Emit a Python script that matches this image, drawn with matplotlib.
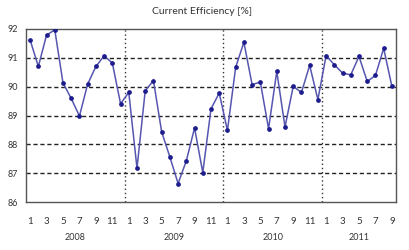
import matplotlib
matplotlib.use("Agg")
import matplotlib.pyplot as plt
import matplotlib.transforms as mtransforms
import numpy as np

plt.rcParams['font.family'] = ['Lato', 'DejaVu Sans']

years = ["2008", "2009", "2010", "2011"]
months_per_year = [12, 12, 12, 9]
values = [
    91.62, 90.70, 91.79, 91.97, 90.13, 89.59, 88.98, 90.09, 90.70, 91.07, 90.82, 89.41,
    89.80, 87.17, 89.86, 90.21, 88.43, 87.56, 86.64, 87.43, 88.57, 87.02, 89.23, 89.78,
    88.48, 90.67, 91.54, 90.07, 90.16, 88.54, 90.53, 88.60, 90.01, 89.80, 90.74, 89.55,
    91.08, 90.76, 90.47, 90.41, 91.05, 90.18, 90.39, 91.33, 90.01,
]
title = "Current Efficiency [%]"
yticks = [86, 87, 88, 89, 90, 91, 92]

month_labels = []
for n in months_per_year:
    month_labels += list(range(1, n + 1))
x = np.arange(len(values))

fig = plt.figure(figsize=(4.09, 2.5), dpi=100)
ax = fig.add_axes([26 / 409, 1 - 202 / 250, (396 - 26) / 409, (202 - 29) / 250])

ax.set_ylim(86, 92)
ax.set_xlim(-0.5, len(values) - 0.5)
ax.set_yticks(yticks)
ax.set_yticklabels([str(v) for v in yticks])

for yv in yticks[1:-1]:
    ax.axhline(yv, color='#222222', lw=1.0, linestyle=(0, (3, 2)), zorder=1)

bounds = np.cumsum(months_per_year)[:-1]
for b in bounds:
    ax.axvline(b - 0.5, color='#333333', lw=1.0, linestyle=(0, (1, 2)), zorder=1)

ax.plot(x, values, color='#5656b0', lw=1.1, marker='o', markersize=2.4,
        markerfacecolor='#1c1c8c', markeredgecolor='#1c1c8c', zorder=3)

tick_pos = [i for i, m in enumerate(month_labels) if m % 2 == 1]
ax.set_xticks(tick_pos)
ax.set_xticklabels([str(month_labels[i]) for i in tick_pos])
ax.tick_params(axis='x', length=0, labelsize=7, colors='#333333', pad=11)
ax.tick_params(axis='y', length=0, labelsize=6.5, colors='#333333', pad=6)

trans = mtransforms.blended_transform_factory(ax.transData, ax.transAxes)
start = 0
for yr, n in zip(years, months_per_year):
    center = start + (n - 1) / 2
    ax.text(center, -0.205, yr, transform=trans, ha='center', va='center',
            fontsize=6.5, color='#333333')
    start += n

for s in ax.spines.values():
    s.set_color('#555555')
    s.set_linewidth(1.0)

fig.text(0.494, 1 - 12 / 250, title, ha='center', va='center', fontsize=7.5, color='#333333')

fig.savefig("out.png", dpi=100)
